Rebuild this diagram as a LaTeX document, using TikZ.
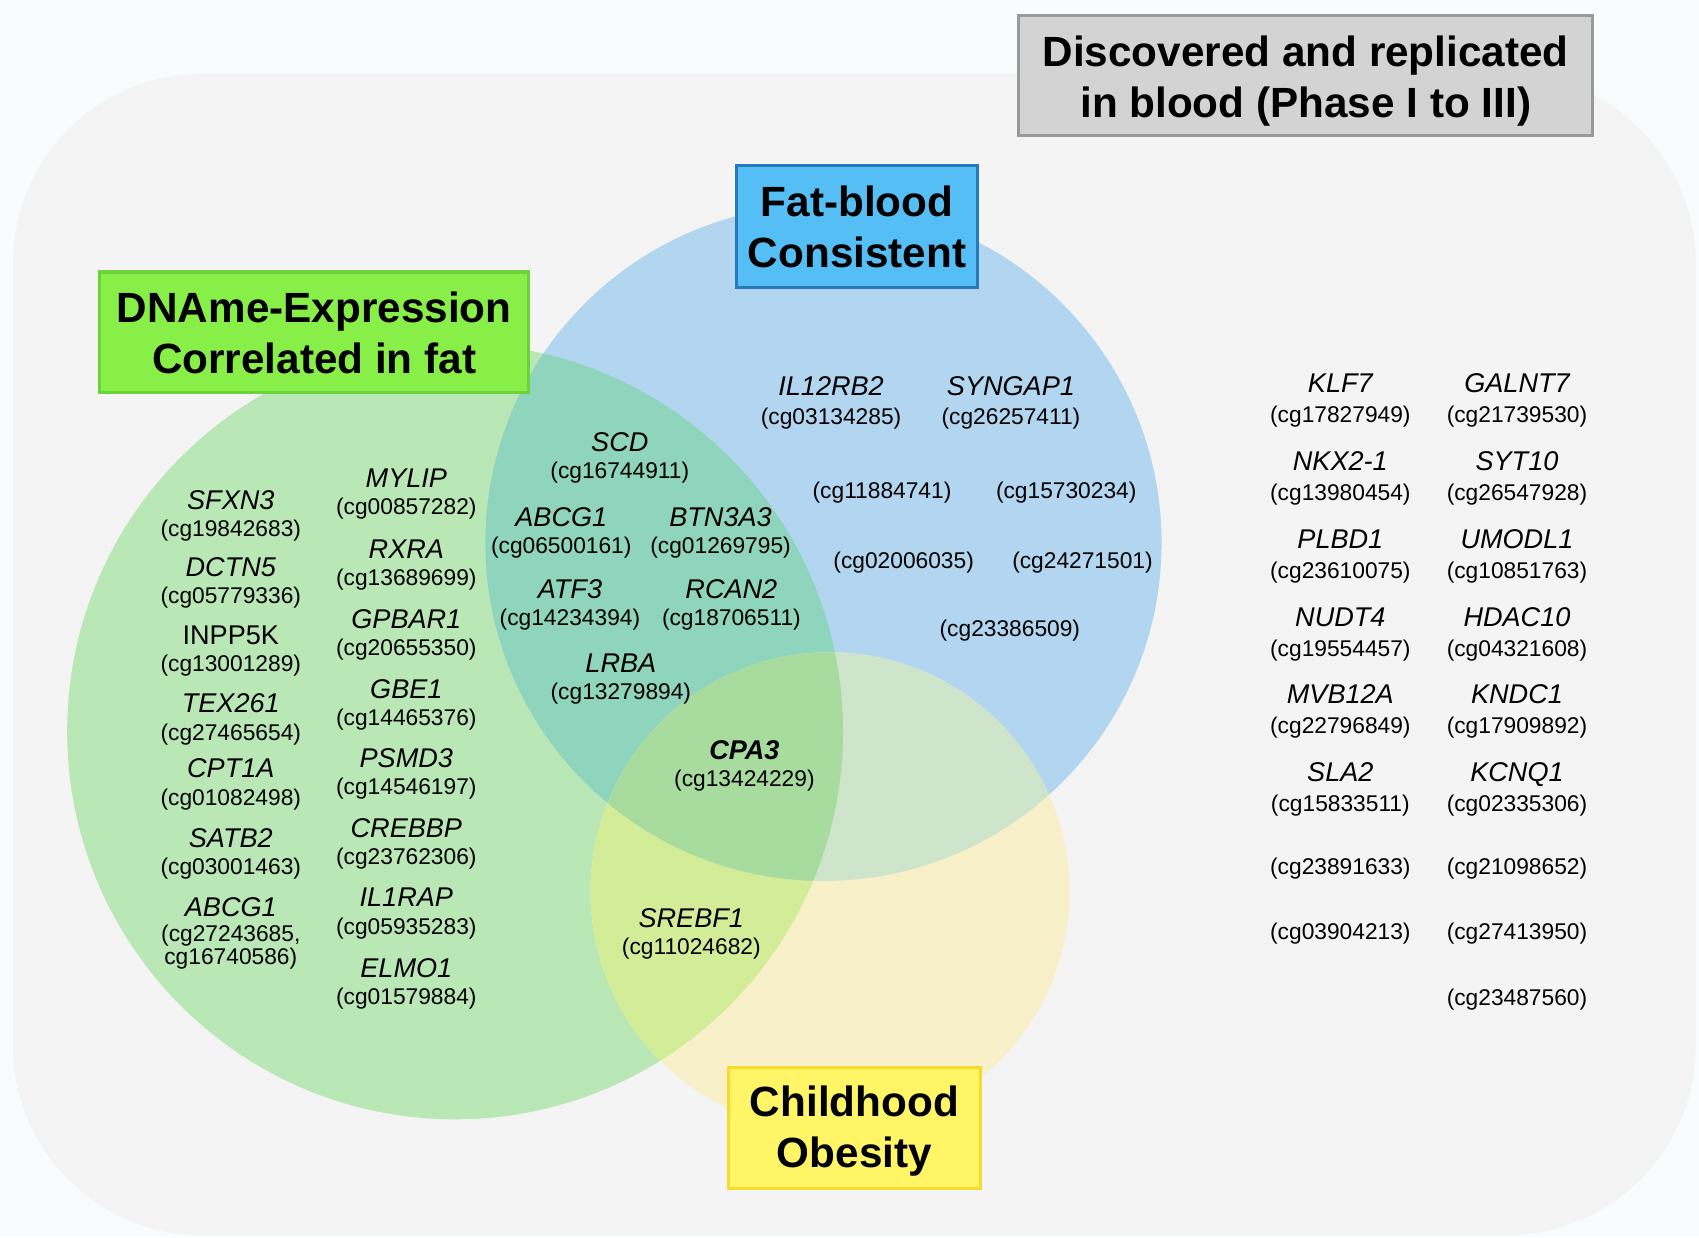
\documentclass[tikz,border=0pt]{standalone}
\usepackage{fontspec}
\setmainfont{Liberation Sans}
\definecolor{pagebg}{HTML}{F8FCFD}
\definecolor{panel}{HTML}{F4F4F4}
\definecolor{cG}{HTML}{BAE7B6}
\definecolor{cB}{HTML}{B2D6F0}
\definecolor{cY}{HTML}{F7F0C8}
\definecolor{cGB}{HTML}{8FD4BC}
\definecolor{cGY}{HTML}{D2EC98}
\definecolor{cBY}{HTML}{CEE4CB}
\definecolor{cGBY}{HTML}{A8DB9E}
\definecolor{boxG}{HTML}{88EE48}
\definecolor{boxGd}{HTML}{6CD23A}
\definecolor{boxB}{HTML}{55BEF5}
\definecolor{boxBd}{HTML}{2878BE}
\definecolor{boxY}{HTML}{FFF566}
\definecolor{boxYd}{HTML}{F7DA2E}
\definecolor{boxK}{HTML}{D3D3D3}
\definecolor{boxKd}{HTML}{999999}
\newcommand\gn[6][25]{%
  \node[gtxt,anchor=base] (#2g) at (#3,#4) {#5};
  \node[ctxt,anchor=base] (#2c) at (#3,#4+#1) {#6};}
\newcommand\cgonly[4]{%
  \node[ctxt,anchor=base] (#1) at (#2,#3) {#4};}
\begin{document}
\begin{tikzpicture}[x=1pt,y=-1pt,
  gtxt/.style={font=\fontsize{25}{28}\selectfont\itshape, inner sep=0pt},
  ctxt/.style={font=\fontsize{21}{24}\selectfont, inner sep=0pt},
  ttlbox/.style={line width=3pt, inner sep=0pt, anchor=center},
  ttltext/.style={font=\fontsize{39}{47}\selectfont\bfseries, align=center,
              inner sep=0pt, anchor=center}]
\useasboundingbox (0,0) rectangle (1568,1142);
\fill[pagebg] (0,0) rectangle (1568,1142);
\fill[panel, rounded corners=175pt] (12,68) rectangle (1565,1140);
% circles
\coordinate (cg) at (420,675);
\coordinate (cb) at (760,501);
\coordinate (cy) at (766,823);
\fill[cG] (cg) circle[radius=358pt];
\fill[cB] (cb) circle[radius=312pt];
\fill[cY] (cy) circle[radius=221pt];
\begin{scope}
  \clip (cg) circle[radius=358pt];
  \fill[cGB] (cb) circle[radius=312pt];
  \fill[cGY] (cy) circle[radius=221pt];
\end{scope}
\begin{scope}
  \clip (cb) circle[radius=312pt];
  \fill[cBY] (cy) circle[radius=221pt];
\end{scope}
\begin{scope}
  \clip (cg) circle[radius=358pt];
  \clip (cb) circle[radius=312pt];
  \fill[cGBY] (cy) circle[radius=221pt];
\end{scope}
% title boxes
\node[ttlbox, fill=boxG, draw=boxGd, minimum width=396pt, minimum height=111pt]
  (bdname) at (290,306.5) {};
\node[ttltext] (tdname) at ([yshift=-1pt]bdname.center) {DNAme-Expression\\Correlated in fat};
\node[ttlbox, fill=boxB, draw=boxBd, minimum width=222pt, minimum height=112pt]
  (bfat) at (791,209) {};
\node[ttltext] (tfat) at (bfat.center) {Fat-blood\\Consistent};
\node[ttlbox, fill=boxY, draw=boxYd, minimum width=233pt, minimum height=112pt]
  (bchild) at (788.5,1041) {};
\node[ttltext] (tchild) at ([yshift=-3pt]bchild.center) {Childhood\\Obesity};
\node[ttlbox, fill=boxK, draw=boxKd, minimum width=530pt, minimum height=111pt]
  (bdisc) at (1205,69.5) {};
\node[ttltext] (tdisc) at ([yshift=-5pt]bdisc.center) {Discovered and replicated\\in blood (Phase I to III)};
% green only, left column
\gn{sfxn}{213}{470}{SFXN3}{(cg19842683)}
\gn{dctn}{213}{532}{DCTN5}{(cg05779336)}
\gn{inpp}{213}{595}{\upshape INPP5K}{(cg13001289)}
\gn{tex}{213}{658}{TEX261}{(cg27465654)}
\gn{cpt}{213}{718}{CPT1A}{(cg01082498)}
\gn{satb}{213}{782}{SATB2}{(cg03001463)}
\node[gtxt,anchor=base] (abcgLg) at (213,846) {ABCG1};
\node[ctxt,anchor=base] (abcgLc) at (213,869) {(cg27243685,};
\node[ctxt,anchor=base] (abcgLd) at (213,890) {cg16740586)};
% green only, right column
\gn{mylip}{375}{450}{MYLIP}{(cg00857282)}
\gn{rxra}{375}{515}{RXRA}{(cg13689699)}
\gn{gpbar}{375}{580}{GPBAR1}{(cg20655350)}
\gn{gbe}{375}{645}{GBE1}{(cg14465376)}
\gn{psmd}{375}{708}{PSMD3}{(cg14546197)}
\gn{crebbp}{375}{773}{CREBBP}{(cg23762306)}
\gn{ilrap}{375}{837}{IL1RAP}{(cg05935283)}
\gn{elmo}{375}{902}{ELMO1}{(cg01579884)}
% green and blue
\gn{scd}{572}{417}{SCD}{(cg16744911)}
\gn{abcgM}{518}{486}{ABCG1}{(cg06500161)}
\gn{btn}{665}{486}{BTN3A3}{(cg01269795)}
\gn{atf}{526}{552}{ATF3}{(cg14234394)}
\gn{rcan}{675}{552}{RCAN2}{(cg18706511)}
\gn{lrba}{573}{621}{LRBA}{(cg13279894)}
% all three
\gn{cpa}{687}{701}{\bfseries CPA3}{(cg13424229)}
% green and yellow
\gn{srebf}{638}{856}{SREBF1}{(cg11024682)}
% blue only
\gn[27]{il12}{767}{365}{IL12RB2}{(cg03134285)}
\gn[27]{syng}{933}{365}{SYNGAP1}{(cg26257411)}
\cgonly{b1}{814}{460.5}{(cg11884741)}
\cgonly{b2}{984}{460.5}{(cg15730234)}
\cgonly{b3}{834}{524.5}{(cg02006035)}
\cgonly{b4}{999}{524.5}{(cg24271501)}
\cgonly{b5}{932}{587.5}{(cg23386509)}
% blood only
\gn[28]{klf}{1237}{362}{KLF7}{(cg17827949)}
\gn[28]{galnt}{1400}{362}{GALNT7}{(cg21739530)}
\gn[28]{nkx}{1237}{434}{NKX2-1}{(cg13980454)}
\gn[28]{syt}{1400}{434}{SYT10}{(cg26547928)}
\gn[28]{plbd}{1237}{506}{PLBD1}{(cg23610075)}
\gn[28]{umodl}{1400}{506}{UMODL1}{(cg10851763)}
\gn[28]{nudt}{1237}{578}{NUDT4}{(cg19554457)}
\gn[28]{hdac}{1400}{578}{HDAC10}{(cg04321608)}
\gn[28]{mvb}{1237}{649}{MVB12A}{(cg22796849)}
\gn[28]{kndc}{1400}{649}{KNDC1}{(cg17909892)}
\gn[28]{sla}{1237}{721}{SLA2}{(cg15833511)}
\gn[28]{kcnq}{1400}{721}{KCNQ1}{(cg02335306)}
\cgonly{r1}{1237}{807.5}{(cg23891633)}
\cgonly{r2}{1400}{807.5}{(cg21098652)}
\cgonly{r3}{1237}{867.5}{(cg03904213)}
\cgonly{r4}{1400}{867.5}{(cg27413950)}
\cgonly{r5}{1400}{927.5}{(cg23487560)}
\end{tikzpicture}
\end{document}
